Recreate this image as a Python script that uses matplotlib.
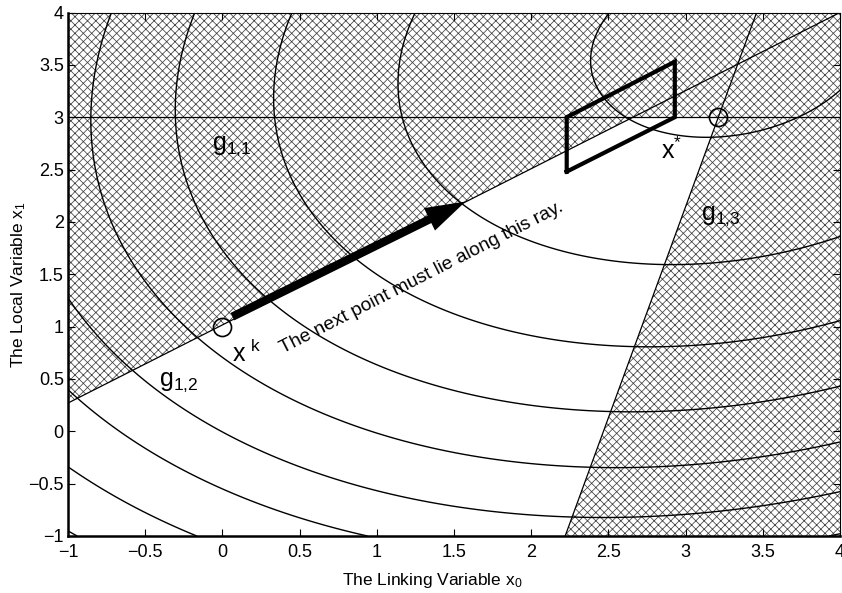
import numpy as np
import matplotlib
matplotlib.use("Agg")
import matplotlib.pyplot as plt

plt.rcParams['font.family'] = ['Liberation Sans', 'DejaVu Sans']
plt.rcParams['mathtext.default'] = 'regular'
plt.rcParams['hatch.linewidth'] = 0.55

# objective contours (centre, coefficients and levels)
centre = [3.3, 3.7]
coef_xx, coef_yy, coef_xy = 0.95, 1.0, -0.35
levels = [0.77, 4.3, 8.1, 11.95, 15.85, 19.8, 23.5, 27.8, 32.2]

# constraint boundaries
g11_y = 3.0
g12_x = [-1.0, 4.0]
g12_y = [0.27, 4.0]
g13_x = [2.22, 3.46]
g13_y = [-1.0, 4.0]

# points and the trust box
circ_x = [0.0, 3.21]
circ_y = [1.0, 3.0]
box_x = [2.23, 2.23, 2.93, 2.93, 2.23]
box_y = [2.48, 3.0, 3.53, 3.0, 2.48]
arrow_tail = (0.065, 1.095)
arrow_tip = (1.575, 2.195)

fig = plt.figure(figsize=(8.42, 5.93), dpi=100)
ax = fig.add_axes([68 / 842, 57 / 593, 772 / 842, 523.5 / 593])

# hatch everything, then clear the feasible region
ax.fill([-1, 4, 4, -1], [-1, -1, 4, 4], facecolor='none', edgecolor='0.25',
        hatch='xxxx', lw=0, zorder=1)
x12_at3 = g12_x[0] + (g11_y - g12_y[0]) * (g12_x[1] - g12_x[0]) / (g12_y[1] - g12_y[0])
x13_at3 = g13_x[0] + (g11_y - g13_y[0]) * (g13_x[1] - g13_x[0]) / (g13_y[1] - g13_y[0])
ax.fill([-1, -1, x12_at3, x13_at3, g13_x[0]],
        [-1, g12_y[0], g11_y, g11_y, g13_y[0]],
        facecolor='white', edgecolor='none', lw=0, zorder=1.5)

# objective contours
xx, yy = np.meshgrid(np.linspace(-1, 4, 400), np.linspace(-1, 4, 400))
dx = xx - centre[0]
dy = yy - centre[1]
ff = coef_xx * dx**2 + coef_yy * dy**2 + coef_xy * dx * dy
ax.contour(xx, yy, ff, levels=levels, colors='k', linewidths=1.0, zorder=2)

# constraint lines
ax.plot([-1, 4], [g11_y, g11_y], 'k-', lw=0.9, zorder=3)
ax.plot(g12_x, g12_y, 'k-', lw=0.9, zorder=3)
ax.plot(g13_x, g13_y, 'k-', lw=0.9, zorder=3)

ax.plot(circ_x, circ_y, 'o', ms=13, mfc='none', mec='k', mew=1.2, zorder=4)
ax.plot(box_x, box_y, 'k-', lw=3, solid_joinstyle='miter', zorder=4)

ax.annotate('', xy=arrow_tip, xytext=arrow_tail,
            arrowprops=dict(arrowstyle='simple,head_length=1.45,head_width=0.9,tail_width=0.3',
                            mutation_scale=20, fc='k', ec='k', lw=0,
                            shrinkA=0, shrinkB=0), zorder=5)

ax.text(1.29, 1.47, 'The next point must lie along this ray.', rotation=27,
        rotation_mode='anchor', ha='center', va='center', fontsize=13.8, zorder=5)

ax.text(-0.065, 2.69, r'$g_{1{,}1}$', fontsize=18, va='baseline', zorder=5)
ax.text(-0.41, 0.43, r'$g_{1{,}2}$', fontsize=18, va='baseline', zorder=5)
ax.text(3.10, 2.02, r'$g_{1{,}3}$', fontsize=18, va='baseline', zorder=5)
ax.text(0.065, 0.665, r'$x^{\ k}$', fontsize=18, va='baseline', zorder=5)
ax.text(2.84, 2.60, r'$x^{*}$', fontsize=18, va='baseline', zorder=5)

ax.set_xlim(-1, 4)
ax.set_ylim(-1, 4)
ax.set_xticks(np.arange(-1, 4.01, 0.5))
ax.set_yticks(np.arange(-1, 4.01, 0.5))
ax.set_xticklabels(['\u22121', '\u22120.5', '0', '0.5', '1', '1.5', '2', '2.5', '3', '3.5', '4'])
ax.set_yticklabels(['\u22121', '\u22120.5', '0', '0.5', '1', '1.5', '2', '2.5', '3', '3.5', '4'])
ax.tick_params(direction='in', top=True, right=True, length=5, width=0.8, labelsize=13)
ax.tick_params(axis='x', pad=6)
ax.tick_params(axis='y', pad=3)
ax.spines['bottom'].set_linewidth(1.8)
ax.spines['left'].set_linewidth(1.8)
ax.spines['top'].set_linewidth(0.8)
ax.spines['right'].set_linewidth(0.8)

ax.set_xlabel(r'The Linking Variable $x_0$', fontsize=12.5)
ax.set_ylabel(r'The Local Variable $x_1$', fontsize=12.5)
ax.xaxis.set_label_coords(0.472, -0.067)
ax.yaxis.set_label_coords(-0.052, 0.48)

fig.savefig('out.png', dpi=100)
